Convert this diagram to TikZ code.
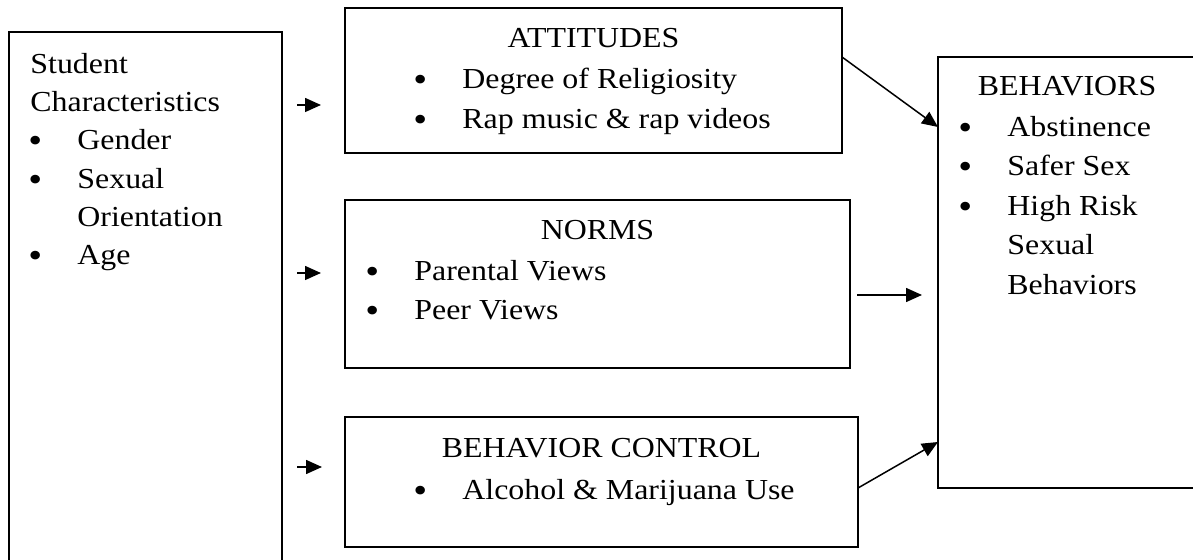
\documentclass[tikz,border=0pt]{standalone}
\usepackage{fontspec}
\setmainfont{Liberation Serif}[FakeStretch=1.1]
\usetikzlibrary{arrows.meta,positioning}
\newcommand{\bul}{\makebox[23.5pt][l]{\hspace*{-1pt}\raisebox{-1.5pt}{\fontsize{18}{18}\selectfont\textbullet}}}
\newcommand{\ind}{\hspace*{23.5pt}}

\begin{document}
\begin{tikzpicture}[x=0.5pt,y=-0.5pt,
  box/.style={draw,line width=1pt,anchor=north west,inner sep=0pt,outer sep=0pt},
  txt/.style={align=left,inner sep=0pt,font=\fontsize{14.5}{19.7}\selectfont},
  head/.style={inner sep=0pt,font=\fontsize{14.5}{19.7}\selectfont},
  arr/.style={->,line width=0.75pt},
  >={Triangle[length=8pt,width=7pt]}]
\useasboundingbox (0,0) rectangle (1193,560);
\clip (0,0) rectangle (1193,560);
% boxes
\node[box,minimum width=136.5pt,minimum height=266.5pt] (stud) at (9,32) {};
\node[box,minimum width=248.5pt,minimum height=72.5pt] (att) at (345,8) {};
\node[box,minimum width=252.5pt,minimum height=84pt] (norms) at (345,200) {};
\node[box,minimum width=256.5pt,minimum height=65pt] (ctrl) at (345,417) {};
\node[box,minimum width=129pt,minimum height=215.5pt] (beh) at (938,57) {};
% texts
\node[txt,font=\fontsize{14.5}{19.1}\selectfont,below right=10.5pt and 10.5pt of stud.north west] (studtxt)
  {Student\\Characteristics\\\bul Gender\\\bul Sexual\\\ind Orientation\\\bul Age};
\node[head,below=10pt of att.north] (atthead) {ATTITUDES};
\node[txt,below right=30pt and 35pt of att.north west] (attlist)
  {\bul Degree of Religiosity\\\bul Rap music \& rap videos};
\node[head,below=10pt of norms.north] (normshead) {NORMS};
\node[txt,below right=30pt and 11pt of norms.north west] (normslist)
  {\bul Parental Views\\\bul Peer Views};
\node[head,below=10.5pt of ctrl.north] (ctrlhead) {BEHAVIOR CONTROL};
\node[txt,below right=31pt and 35pt of ctrl.north west] (ctrllist)
  {\bul Alcohol \& Marijuana Use};
\node[head,below=9.5pt of beh.north] (behhead) {BEHAVIORS};
\node[txt,below right=29.5pt and 11pt of beh.north west] (behlist)
  {\bul Abstinence\\\bul Safer Sex\\\bul High Risk\\\ind Sexual\\\ind Behaviors};
% arrows
\draw[arr,shorten <=7.5pt,shorten >=12pt] (stud.east |- 0,105) -- (att.west |- 0,105);
\draw[arr,shorten <=7.5pt,shorten >=12pt] (stud.east |- 0,273) -- (norms.west |- 0,273);
\draw[arr,shorten <=7.5pt,shorten >=11.5pt] (stud.east |- 0,467) -- (ctrl.west |- 0,467);
\draw[arr,shorten <=3.5pt,shorten >=8pt] (norms.east |- 0,295) -- (beh.west |- 0,295);
\draw[arr] ([yshift=-24.5pt]att.north east) -- ([yshift=-35pt]beh.north west);
\draw[arr] ([yshift=-35.5pt]ctrl.north east) -- ([yshift=-192.5pt]beh.north west);
\end{tikzpicture}
\end{document}
